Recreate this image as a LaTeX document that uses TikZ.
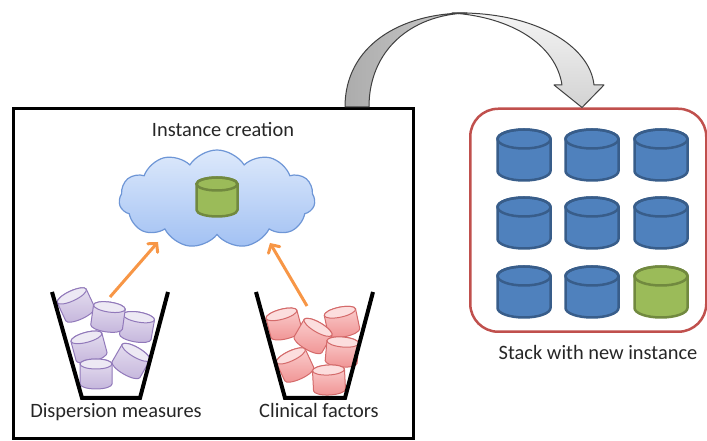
\documentclass[tikz,border=0pt]{standalone}
\usepackage{fontspec}
\setmainfont{Carlito}
\usetikzlibrary{shapes.symbols,arrows.meta}

\definecolor{txt}{HTML}{262626}
\definecolor{canblue}{HTML}{4F81BD}
\definecolor{canblueline}{HTML}{385D8A}
\definecolor{cangreen}{HTML}{9BBB59}
\definecolor{cangreenline}{HTML}{71893F}
\definecolor{stackred}{HTML}{C0504D}
\definecolor{flow}{HTML}{F79646}
\definecolor{cloudtop}{HTML}{DDE9FB}
\definecolor{cloudbot}{HTML}{A2C1F3}
\definecolor{cloudline}{HTML}{6E96D6}
\definecolor{lavtop}{HTML}{E6DFF0}
\definecolor{lavbot}{HTML}{C5B6DC}
\definecolor{lavline}{HTML}{9179BA}
\definecolor{rosetop}{HTML}{FBD0D0}
\definecolor{rosebot}{HTML}{F09494}
\definecolor{roseline}{HTML}{D46A6A}

% cylinder: x, y, rotation, width, height, ellipse radius, style prefix
\newcommand\drawcan[7]{%
  \begin{scope}[shift={(#1,#2)},rotate=#3]
    \path[#7 body] (-#4/2,#5/2-#6) -- (-#4/2,-#5/2+#6)
      arc[start angle=180,end angle=360,x radius=#4/2,y radius=#6]
      -- (#4/2,#5/2-#6)
      arc[start angle=0,end angle=180,x radius=#4/2,y radius=#6] -- cycle;
    \path[#7 top] (0,#5/2-#6) ellipse[x radius=#4/2,y radius=#6];
  \end{scope}}

\tikzset{
  x=1pt, y=1pt,
  lbl/.style={font=\fontsize{20.4}{24}\selectfont, text=txt, anchor=base, inner sep=0},
  blue body/.style={fill=canblue, draw=canblueline, line width=2.5pt, line join=round},
  blue top/.style={draw=canblueline, line width=2.5pt},
  green body/.style={fill=cangreen, draw=cangreenline, line width=2.5pt, line join=round},
  green top/.style={draw=cangreenline, line width=2.5pt},
  lav body/.style={top color=lavtop, bottom color=lavbot, draw=lavline, line width=1pt},
  lav top/.style={fill=lavtop!70!white, draw=lavline, line width=1pt},
  rose body/.style={top color=rosetop, bottom color=rosebot, draw=roseline, line width=1pt},
  rose top/.style={fill=rosetop!70!white, draw=roseline, line width=1pt},
  cup/.style={draw=black, line width=4pt, line join=miter},
  flowarrow/.style={draw=flow, line width=3pt,
    -{Straight Barb[length=6pt,width=13pt,line cap=round]}},
}

\begin{document}
\begin{tikzpicture}
\useasboundingbox (0,0) rectangle (707,441);

% frames
\node[draw=black, line width=3pt, minimum width=400pt, minimum height=330pt,
      inner sep=0, anchor=south west] (box) at (12,1) {};
\node[draw=stackred, line width=2.5pt, rounded corners=28pt, minimum width=236pt,
      minimum height=223pt, inner sep=0, anchor=south west] (stack) at (469,108) {};

% curved transfer arrow
\path[fill=gray!22, draw=black!75, line width=1pt, line join=round,
      top color=gray!8, bottom color=gray!35]
  (452,428) .. controls (535,430) and (590,395) .. (594,356)
  -- (604,356) -- (stack.north -| 582,0) -- (554,356) -- (562,356)
  .. controls (556,396) and (512,424) .. (452,428) -- cycle;
\path[draw=black!75, line width=1pt, line join=round,
      left color=gray!65, right color=gray!40]
  (box.north -| 345,0) .. controls (345,395) and (400,428) .. (467,428)
  .. controls (410,426) and (369,390) .. (box.north -| 369,0) -- cycle;

% cloud with the new instance
\node[cloud, cloud puffs=11, cloud puff arc=115, aspect=2,
      minimum width=196pt, minimum height=98pt, inner sep=0,
      draw=cloudline, line width=1.2pt, top color=cloudtop, bottom color=cloudbot]
      (cloud) at (217,242) {};
\drawcan{217}{244}{0}{41}{39}{6.5}{green}

% stack of instances
\foreach \cx in {524,592,661}{
  \foreach \cy in {286,218}{
    \drawcan{\cx}{\cy}{0}{53}{51}{9.5}{blue}
  }
}
\drawcan{524}{149}{0}{53}{51}{9.5}{blue}
\drawcan{592}{149}{0}{53}{51}{9.5}{blue}
\drawcan{661}{149}{0}{53}{51}{9.5}{green}

% dispersion measures cup
\drawcan{76}{136}{25}{32}{30}{5}{lav}
\drawcan{137}{114}{-10}{32}{30}{5}{lav}
\drawcan{108}{124}{-8}{32}{30}{5}{lav}
\drawcan{89}{94}{15}{32}{30}{5}{lav}
\drawcan{131}{80}{-30}{32}{30}{5}{lav}
\drawcan{96}{67}{0}{32}{30}{5}{lav}
\path[cup] (52,149) -- (82,43) -- (140,43) -- (168,149);
\coordinate (dmtop) at (110,144);

% clinical factors cup
\drawcan{284}{117}{15}{32}{30}{5}{rose}
\drawcan{342}{119}{12}{32}{30}{5}{rose}
\drawcan{313}{105}{-30}{32}{30}{5}{rose}
\drawcan{342}{89}{-5}{32}{30}{5}{rose}
\drawcan{295}{76}{25}{32}{30}{5}{rose}
\drawcan{329}{61}{3}{32}{30}{5}{rose}
\path[cup] (256,149) -- (285,43) -- (345,43) -- (373,149);
\coordinate (cftop) at (307,135);

% flows into the cloud
\coordinate (cloudL) at (158,199);
\coordinate (cloudR) at (270,198);
\draw[flowarrow] (dmtop) -- (cloudL);
\draw[flowarrow] (cftop) -- (cloudR);

% labels
\node[lbl] (ttl) at (223,304) {Instance creation};
\node[lbl] (dm) at (116,23) {Dispersion measures};
\node[lbl] (cf) at (319,23) {Clinical factors};
\node[lbl] (st) at (598,81) {Stack with new instance};
\end{tikzpicture}
\end{document}
